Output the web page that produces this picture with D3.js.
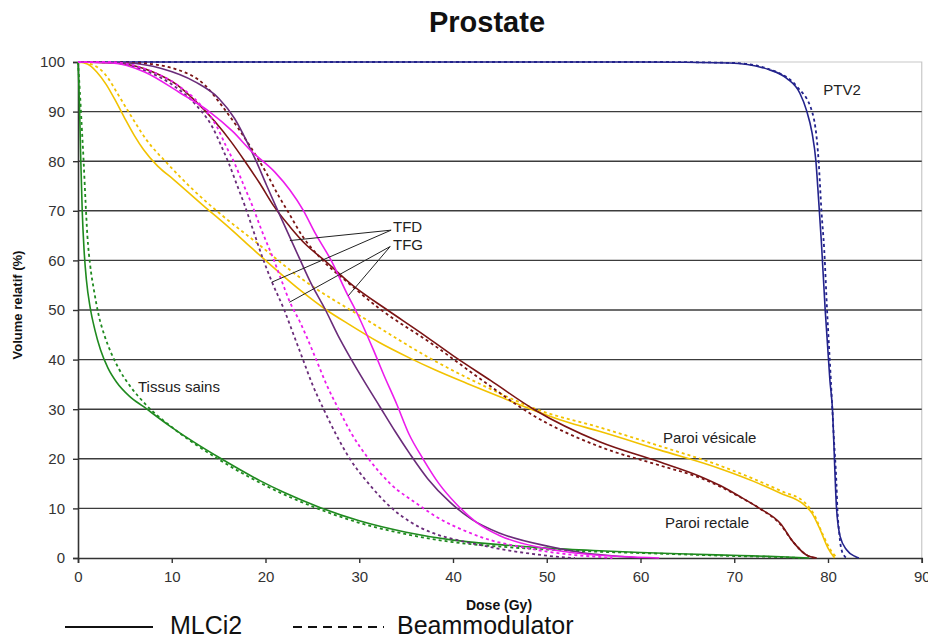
<!DOCTYPE html>
<html><head><meta charset="utf-8">
<script src="https://cdn.jsdelivr.net/npm/d3@7"></script>
<style>body{margin:0;background:#fff}svg{display:block}text{font-family:"Liberation Sans",Arial,sans-serif}</style>
</head><body><svg id="c" width="928" height="641"></svg>
<script>
const title = "Prostate";
const xTicks = [0,10,20,30,40,50,60,70,80,90];
const yTicks = [0,10,20,30,40,50,60,70,80,90,100];
const xLabel = "Dose (Gy)";
const yLabel = "Volume relatif (%)";
const legendNames = ["MLCi2","Beammodulator"];

// [dose Gy, volume %]
const ptv2Mlc = [[0,100],[60,100],[69.5,99.8],[73.8,98.4],[75.6,96.7],[77,93.7],[77.7,90.3],[78.3,85.7],[78.7,80.2],[79,72.2],[79.3,63.5],[79.7,50],[80.2,35.9],[80.5,29.2],[80.7,19.2],[80.9,10.3],[81.3,4.3],[82,1.6],[82.9,0.3],[83.3,0]];
const ptv2Beam = [[0,100],[62,100],[70,99.8],[74.5,98],[76.7,95],[78.3,90],[79,80],[79.3,70],[79.6,62],[79.9,50],[80.3,36],[80.6,25],[80.9,15],[81,10],[81.2,5],[81.4,2],[81.8,0.3],[82.1,0]];
const sainsMlc = [[0,100],[0.1,95],[0.2,88],[0.3,80],[0.45,70],[0.65,62],[0.9,56],[1.3,50.5],[1.8,46],[2.4,42],[3.2,38.3],[4.1,35.5],[5.5,32.6],[7,30.5],[9.8,26.6],[12.5,23.2],[15.1,20.2],[19.4,15.6],[22,13.2],[25.8,10.2],[30,7.5],[35,5.2],[40,3.6],[45,2.7],[50,2],[55,1.5],[60,1.1],[65,0.8],[70.6,0.5],[75,0.25],[78,0]];
const sainsBeam = [[0,100],[0.2,94],[0.4,87],[0.6,80],[0.8,72],[1.0,65],[1.3,59],[1.7,54],[2.2,49],[2.8,45],[3.5,41.5],[4.4,38],[5.5,34.8],[7.3,30.8],[10,26.4],[15,19.9],[20,14.6],[25.8,9.8],[30,7.1],[35,4.8],[40,3.2],[45,2.3],[50,1.7],[55,1.3],[60,1.0],[65,0.7],[70,0.4],[76,0.1],[77,0]];
const vessieMlc = [[0,100],[1,99.6],[2,98],[3,95.5],[4,92.2],[5,88.6],[6,85.2],[7,82.3],[8.5,79],[10.2,76.3],[13.4,71],[16,66.8],[18,63.4],[20,60],[23.7,54],[26.5,50],[29,47],[32,43.6],[35.4,40.3],[38,38],[41.5,35.2],[45,32.5],[48.6,29.8],[52,27.5],[55.7,25.5],[62,21.8],[68.5,18],[72,15.5],[75,13],[77.4,10.8],[78.3,9],[79.1,6],[80,2],[80.7,0]];
const vessieBeam = [[0,100],[1.5,99.5],[2.5,98.3],[3.3,96.5],[4.1,94],[5.7,89],[7.3,84.3],[9.5,79.6],[12.3,74.2],[15.1,69.5],[18.7,64.1],[23.7,56.5],[30.8,48],[37.9,39.9],[45,33.2],[48.6,30.2],[55.7,26.3],[62,22.6],[68.5,18.6],[72,16],[75,13.5],[77.5,11.2],[78.5,8.8],[79.5,4.5],[80.5,1],[81,0]];
const rectumMlc = [[0,100],[4,99.8],[8,98],[10.5,95.5],[12.7,91.8],[14.6,88],[16.3,84],[17.8,80],[19.4,75.5],[20.8,71.2],[22.6,66.8],[24.3,63.2],[26.3,60],[29.4,54.8],[33,50],[36.5,45.5],[40,40.8],[44,35.8],[48.6,30],[55.7,23.4],[62,19.4],[66.3,16.5],[68.5,14.6],[70.5,12.5],[72.7,10],[74.9,7],[76.3,3.2],[77.7,0.6],[78.8,0]];
const rectumBeam = [[0,100],[6.4,99.8],[10.7,98.4],[13.5,95.4],[15.3,91.3],[17.1,86.6],[18.5,82.6],[20.1,77.6],[21.4,73],[22.5,69.5],[23.9,65],[26,60.2],[29,55.2],[32,50.5],[37.9,43],[43,36],[48.6,28.7],[55.7,22.4],[62,18.7],[66.3,16.2],[68.5,14.4],[70.5,12.4],[72.7,10],[74.9,6.8],[76.3,3.2],[77.7,0.6],[78.5,0]];
const tfdMlc = [[0,100],[5.3,99.8],[8.9,98.7],[12.5,96],[15,92.7],[16.7,88.6],[18,84],[19.1,79.6],[20.1,75.2],[21.2,70.5],[22.4,65.5],[23.6,60.5],[24.9,55.2],[26.4,50],[27.7,45],[29.1,40.2],[30.6,35.4],[32.2,30.5],[33.8,25.6],[35.4,21],[37.3,16],[39.7,11.2],[42,7.8],[45,5],[50.3,2.3],[54,1],[58,0.3],[60,0]];
const tfdBeam = [[0,100],[3,100],[5,99.5],[7.5,98],[10,95.5],[12.5,91.5],[14.3,87],[15.3,83],[16.1,79.5],[16.9,75.5],[17.8,71],[18.7,66],[19.6,61],[20.7,55.6],[22,50],[23,45],[23.9,40.5],[25,35],[26.2,30],[27.5,25],[29,20],[31,15],[33.5,10],[35.5,7.2],[37.9,5],[40.5,3.6],[43.2,2.5],[46,1.5],[49,0.7],[52,0.1],[53,0]];
const tfgMlc = [[0,100],[3.6,99.8],[7.1,98],[10.7,94],[14,90],[16.5,86],[18.5,82],[21,77.8],[22.6,74.2],[24,70.2],[25.3,65.5],[27,60],[28.8,52.9],[29.6,50],[31.5,42],[32.6,37],[34,31],[35.3,25],[36.8,20],[38.5,15],[40.4,10.8],[42.5,7.2],[45,4.5],[49.3,2.1],[53,1],[58,0.3],[62,0]];
const tfgBeam = [[0,100],[3.5,100],[5.5,99.5],[8,98],[10.5,95.5],[13,91.5],[14.8,87],[15.8,83],[16.6,80],[17.6,75.5],[18.6,71],[19.6,66],[20.8,60.5],[21.8,55.5],[22.6,51.6],[23.7,47.5],[25.3,40.5],[26.5,35],[27.8,30],[29.2,25],[31,20],[33.3,15],[36.1,11],[38.5,8],[41.5,5.3],[44,3.6],[46.8,2.4],[50,1.3],[53,0.6],[56,0.15],[57,0]];

const seriesNames = ["PTV2","PTV2","Tissus sains","Tissus sains","Paroi vésicale","Paroi vésicale","Paroi rectale","Paroi rectale","TFD","TFD","TFG","TFG"];
const seriesData = [ptv2Mlc,ptv2Beam,sainsMlc,sainsBeam,vessieMlc,vessieBeam,rectumMlc,rectumBeam,tfdMlc,tfdBeam,tfgMlc,tfgBeam];
const seriesKind = ["MLCi2","Beammodulator","MLCi2","Beammodulator","MLCi2","Beammodulator","MLCi2","Beammodulator","MLCi2","Beammodulator","MLCi2","Beammodulator"];
const seriesColor = {"PTV2":"#23238c","Tissus sains":"#1f8a1f","Paroi vésicale":"#f2c200","Paroi rectale":"#7a1414","TFD":"#6a2c7a","TFG":"#ec1cec"};

// labels: [text, dose, volume]
const labels = [["PTV2",79.5,93.3],["Tissus sains",6.4,33.5],["Paroi vésicale",62.4,23.2],["Paroi rectale",62.6,6.0],["TFD",33.6,65.8],["TFG",33.6,62.1]];
// leader lines: [fromDose, fromVol, toDose, toVol]
const leaders = [[33.4,66.1,22.6,64.0],[33.4,66.1,20.66,55.6],[33.3,62.8,22.54,51.55],[33.3,62.8,28.83,52.88]];

const svg = d3.select("#c");
const x = d3.scaleLinear().domain([0,90]).range([78,921.75]);
const y = d3.scaleLinear().domain([0,100]).range([558,62]);

svg.append("text").attr("x",487).attr("y",32).attr("text-anchor","middle")
  .attr("font-size",29).attr("font-weight","bold").attr("fill","#111").text(title);

svg.append("path").attr("d",`M${x(0)},${y(100)}H${x(90)}V${y(0)}`).attr("fill","none").attr("stroke","#c8c8c8").attr("stroke-width",1.2);

svg.append("g").selectAll("line").data(yTicks.filter(d=>d>0&&d<100)).join("line")
  .attr("x1",x(0)).attr("x2",x(90)).attr("y1",d=>y(d)).attr("y2",d=>y(d))
  .attr("stroke","#3c3c3c").attr("stroke-width",1.4);

const gx = svg.append("g").attr("transform",`translate(0,${y(0)})`)
  .call(d3.axisBottom(x).tickValues(xTicks).tickSize(5).tickPadding(8).tickFormat(d3.format("d")));
const gy = svg.append("g").attr("transform",`translate(${x(0)},0)`)
  .call(d3.axisLeft(y).tickValues(yTicks).tickSize(5).tickPadding(8).tickFormat(d3.format("d")));
[gx,gy].forEach(g=>{
  g.select(".domain").attr("stroke","#333").attr("stroke-width",1.6);
  g.selectAll(".tick line").attr("stroke","#333").attr("stroke-width",1.4);
  g.selectAll(".tick text").attr("font-size",15).attr("fill","#333").attr("font-family","Liberation Sans, Arial, sans-serif");
});

const line = d3.line().x(d=>x(d[0])).y(d=>y(d[1])).curve(d3.curveMonotoneX);
svg.append("g").selectAll("path").data(seriesData).join("path")
  .attr("d",line).attr("fill","none")
  .attr("stroke",(d,i)=>seriesColor[seriesNames[i]])
  .attr("stroke-width",(d,i)=>seriesKind[i]==="MLCi2"?1.6:1.8)
  .attr("stroke-dasharray",(d,i)=>seriesKind[i]==="MLCi2"?null:"3,3");

svg.append("g").selectAll("line").data(leaders).join("line")
  .attr("x1",d=>x(d[0])).attr("y1",d=>y(d[1])).attr("x2",d=>x(d[2])).attr("y2",d=>y(d[3]))
  .attr("stroke","#222").attr("stroke-width",1);

svg.append("g").selectAll("text").data(labels).join("text")
  .attr("x",d=>x(d[1])).attr("y",d=>y(d[2])).attr("font-size",15).attr("fill","#222").text(d=>d[0]);

svg.append("text").attr("x",499).attr("y",610).attr("text-anchor","middle")
  .attr("font-size",14).attr("font-weight","bold").attr("fill","#111").text(xLabel);
svg.append("text").attr("transform","translate(22,305) rotate(-90)").attr("text-anchor","middle")
  .attr("font-size",13).attr("font-weight","bold").attr("fill","#111").text(yLabel);

const leg = svg.append("g");
leg.append("line").attr("x1",65).attr("x2",153).attr("y1",627).attr("y2",627).attr("stroke","#111").attr("stroke-width",2);
leg.append("text").attr("x",170).attr("y",634).attr("font-size",25).attr("fill","#111").text(legendNames[0]);
leg.append("line").attr("x1",293).attr("x2",384).attr("y1",627).attr("y2",627).attr("stroke","#111").attr("stroke-width",2).attr("stroke-dasharray","9,6");
leg.append("text").attr("x",397).attr("y",634).attr("font-size",25).attr("fill","#111").text(legendNames[1]);
</script></body></html>
